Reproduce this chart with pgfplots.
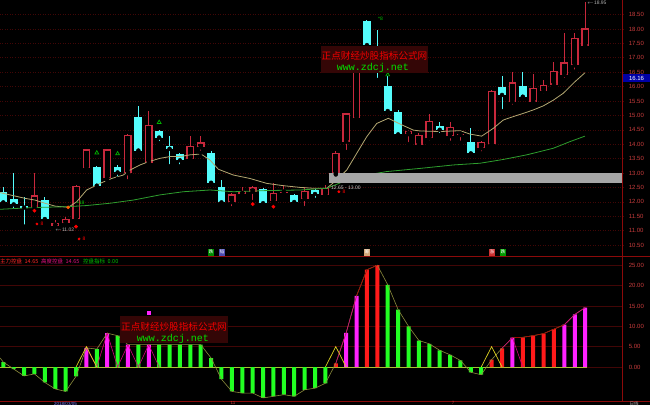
\documentclass[border=0pt]{standalone}
\usepackage{pgfplots}
\usepackage{pgfplotstable}
\pgfplotsset{compat=1.18}
\usepackage{fontspec}
\setmainfont{Liberation Sans}
\newfontfamily\cjk{Noto Sans CJK SC}
\newfontfamily\monof{Liberation Mono}
\definecolor{cyanc}{HTML}{54FCFC}
\definecolor{redc}{HTML}{C8283C}
\definecolor{ma1}{HTML}{B4A872}
\definecolor{ma2}{HTML}{2E9E2E}
\definecolor{gridc}{HTML}{420606}
\definecolor{framec}{HTML}{8C0A0A}
\definecolor{lblc}{HTML}{C83C3C}
\definecolor{barg}{HTML}{22FF22}
\definecolor{barr}{HTML}{FF1A1A}
\definecolor{barm}{HTML}{FF22FF}
\definecolor{olive2}{HTML}{8C8C3C}
\definecolor{zeroc}{HTML}{A8C030}
\definecolor{wmbg}{HTML}{340606}

\pgfplotstableread{
i o h l c
3 11.83 12.99 11.78 12.22
5 11.16 11.36 11.02 11.28
6 11.25 11.47 11.18 11.41
7 11.39 12.58 11.30 12.55
8 13.16 13.85 13.10 13.82
10 12.81 13.85 12.75 13.82
12 12.99 14.35 12.71 14.32
14 13.36 15.15 13.30 14.67
18 13.47 14.28 13.44 13.94
19 13.89 14.28 13.70 14.06
22 11.99 12.30 11.78 12.26
23 12.26 12.53 12.22 12.39
24 12.35 12.55 11.99 12.50
26 12.03 12.64 11.98 12.32
27 12.31 12.59 12.20 12.34
29 12.10 12.53 11.78 12.39
31 12.24 12.59 12.20 12.49
32 12.99 13.75 12.95 13.71
33 14.09 15.10 13.73 15.07
34 14.90 17.15 14.85 17.10
39 14.35 14.50 14.00 14.46
40 13.98 14.40 13.93 14.32
41 14.20 15.04 14.05 14.82
43 14.28 14.78 14.05 14.61
44 14.32 14.40 14.05 14.36
46 13.86 14.12 13.68 14.09
47 14.01 15.88 13.95 15.86
49 15.48 16.50 15.30 16.15
51 15.48 16.44 15.40 15.96
52 15.85 16.22 15.70 16.06
53 16.06 16.86 15.97 16.55
54 16.40 17.85 16.23 16.85
55 16.74 17.85 16.52 17.70
56 17.42 18.95 17.29 18.02
}\upT

\pgfplotstableread{
i o h l c
0 12.33 12.50 11.95 11.98
1 12.10 13.00 11.68 11.91
2 11.84 12.18 11.14 11.80
4 12.06 12.18 11.31 11.40
9 13.20 13.25 12.47 12.56
11 13.22 13.28 12.80 13.02
13 14.96 15.33 13.69 13.78
15 14.46 14.50 14.04 14.23
16 13.94 14.27 13.23 13.84
17 13.65 13.70 13.23 13.44
20 13.71 13.75 12.62 12.66
21 12.50 12.76 11.90 11.98
25 12.44 12.48 11.90 11.95
28 12.24 12.26 11.90 11.99
30 12.41 12.44 12.07 12.27
35 18.28 18.30 17.40 17.44
36 17.30 17.97 16.23 17.10
37 16.02 16.37 15.10 15.15
38 15.11 15.19 14.30 14.34
42 14.64 14.78 14.32 14.50
45 14.09 14.55 13.66 13.68
48 16.00 16.37 15.15 15.71
50 16.02 16.50 15.62 15.65
}\downT

\pgfplotsset{
  panel/.style={anchor=south west, scale only axis, width=622.7pt,
    xmin=-0.318, xmax=59.615, axis line style={draw=none}, xtick=\empty,
    yticklabel pos=right, major tick length=0pt, ymajorgrids,
    /pgf/number format/assume math mode=true,
    /pgf/number format/fixed, /pgf/number format/fixed zerofill,
    /pgf/number format/precision=2,
    yticklabel style={font=\fontsize{6}{7}\selectfont, text=lblc, anchor=west, inner sep=0pt, xshift=6pt}},
  seg/.style 2 args={only marks, no markers, mark=none, error bars/.cd, y dir=plus, y explicit,
    error mark options={draw=none, fill=none, mark size=0pt}, error bar style={draw=#1, line width=#2, line cap=butt}},
}

\begin{document}
\begin{tikzpicture}[x=1pt,y=1pt]
\fill[black] (0,0) rectangle (650,405);
\useasboundingbox (0,0) rectangle (650,405);

% ---------------- upper panel ----------------
\begin{axis}[panel, at={(0pt,148.3pt)}, height=256.7pt, ymin=10.094, ymax=19.007,
  ytick={10.5,11,11.5,12,12.5,13,13.5,14,14.5,15,15.5,16,16.5,17,17.5,18,18.5},
  grid style={color=gridc, dash pattern=on 1pt off 1.5pt, line width=0.6pt}]
% red (rising) candles: wick, outline, hollow inside
\addplot[seg={redc}{1pt}] table[x=i, y=l, y error expr={\thisrow{h}-\thisrow{l}}] {\upT};
\addplot[seg={redc}{7.8pt}] table[x=i, y expr={min(\thisrow{o},\thisrow{c})}, y error expr={max(abs(\thisrow{c}-\thisrow{o}),0.04)}] {\upT};
\addplot[seg={black}{5.0pt}] table[x=i, y expr={min(\thisrow{o},\thisrow{c})+0.048}, y error expr={max(abs(\thisrow{c}-\thisrow{o})-0.096,0)}] {\upT};
% cyan (falling) candles
\addplot[seg={cyanc}{1pt}] table[x=i, y=l, y error expr={\thisrow{h}-\thisrow{l}}] {\downT};
\addplot[seg={cyanc}{7.8pt}] table[x=i, y expr={min(\thisrow{o},\thisrow{c})}, y error expr={max(abs(\thisrow{c}-\thisrow{o}),0.04)}] {\downT};
% moving averages
\addplot[ma1, line width=0.8pt] coordinates {(-0.32,12.32) (2.09,12.12) (3.05,12.06) (4.01,11.95) (4.98,11.85) (6.26,11.81) (7.06,12.00) (8.02,12.41) (9.31,12.64) (10.43,12.81) (11.55,12.93) (12.19,13.10) (13.16,13.28) (13.96,13.39) (15.08,13.51) (16.04,13.57) (17.01,13.57) (17.97,13.63) (19.03,13.66) (19.89,13.45) (20.7,13.13) (22.14,12.93) (23.74,12.81) (25.35,12.64) (26.95,12.56) (28.56,12.50) (29.84,12.47) (31.13,12.47) (32.09,12.76) (33.05,13.10) (34.01,13.68) (34.98,14.26) (35.94,14.72) (37.06,14.90) (38.18,14.70) (39.46,14.49) (40.11,14.46) (42.04,14.44) (43.97,14.47) (44.93,14.35) (46.04,14.28) (47.16,14.55) (48.12,14.84) (49.09,14.96) (50.05,15.07) (51.01,15.19) (51.97,15.33) (52.94,15.53) (53.90,15.77) (55.02,16.17) (55.98,16.48)};
\addplot[ma2, line width=0.8pt] coordinates {(-0.32,11.74) (2.89,11.80) (6.1,11.83) (8.02,11.87) (10.27,11.95) (12.51,12.06) (15.08,12.24) (17.33,12.35) (19.89,12.41) (22.14,12.35) (25.35,12.39) (28.56,12.41) (31.13,12.47) (32.73,12.70) (34.98,12.93) (36.9,13.05) (40.11,13.16) (43.33,13.28) (45.9,13.34) (48.12,13.47) (50.37,13.63) (52.94,13.86) (54.54,14.09) (55.98,14.28)};
% grey band
\addplot[fill=gray!70, draw=none] coordinates {(31.35,12.653) (59.7,12.653) (59.7,13.0) (31.35,13.0)} --cycle;
% signal marks
\addplot[only marks, mark=*, mark size=1.7pt, color=red] coordinates {(3,11.69) (7,11.14) (24,11.92) (26,11.83)};
\addplot[only marks, mark=triangle, mark size=2.2pt, color=green!70!black, mark options={line width=0.7pt}] coordinates {(9,13.70) (11,13.67) (15,14.76) (37,16.41)};
\addplot[only marks, mark=*, mark size=1.2pt, color=red] coordinates {(3.24,11.23) (7.29,10.71) (32.3,12.35)};
\addplot[only marks, mark=*, mark size=1.6pt, color=orange!70!red] coordinates {(6.24,11.81)};
\end{axis}

% ---------------- lower panel ----------------
\begin{axis}[panel, at={(0pt,4pt)}, height=144.3pt, ymin=-8.354, ymax=27.10,
  ytick={0,5,10,15,20,25},
  grid style={color=gridc, line width=0.6pt}]
\addplot[zeroc, line width=0.9pt] coordinates {(-0.32,0) (56.2,0)};
\addplot[ybar, bar width=4pt, bar shift=0pt, fill=barg, draw=none] coordinates {(0,1.2) (1,-0.5) (2,-2.2) (3,-1.7) (4,-3.8) (5,-5.4) (6,-6.0) (7,-2.3) (9,4.4) (11,7.7) (13,5.5) (15,5.5) (16,5.5) (17,5.5) (18,5.5) (19,5.5) (20,2.2) (21,-3.0) (22,-6.0) (23,-6.4) (24,-6.4) (25,-7.6) (26,-7.2) (27,-6.8) (28,-7.2) (29,-5.6) (30,-5.2) (31,-4.0) (37,20.2) (38,14.1) (39,10.0) (40,6.5) (41,5.7) (42,4.1) (43,3.0) (44,1.6) (45,-1.3) (46,-1.9)};
\addplot[ybar, bar width=4pt, bar shift=0pt, fill=barm, draw=none] coordinates {(8,4.7) (10,8.3) (12,5.5) (14,5.5) (33,8.4) (34,17.5) (49,7.2) (54,10.4) (55,12.9) (56,14.6)};
\addplot[ybar, bar width=4pt, bar shift=0pt, fill=barr, draw=none] coordinates {(32,0.9) (35,23.9) (36,25.0) (47,1.8) (48,4.6) (50,7.3) (51,7.7) (52,8.2) (53,9.3)};
% value line
\addplot[olive2, line width=0.6pt] coordinates {(-0.3,2.2) (0,1.2) (1,-0.5) (2,-2.2) (3,-1.7) (4,-3.8) (5,-5.4) (6,-6.0) (7,-2.3) (8,4.7) (9,4.4) (10,8.3) (11,7.7) (12,5.5) (13,5.5) (14,5.5) (15,5.5) (16,5.5) (17,5.5) (18,5.5) (19,5.5) (20,2.2) (21,-3.0) (22,-6.0) (23,-6.4) (24,-6.4) (25,-7.6) (26,-7.2) (27,-6.8) (28,-7.2) (29,-5.6) (30,-5.2) (31,-4.0) (32,0.9) (33,8.4) (34,17.5) (35,23.9) (36,25.0) (37,20.2) (38,14.1) (39,10.0) (40,6.5) (41,5.7) (42,4.1) (43,3.0) (44,1.6) (45,-1.3) (46,-1.9) (47,1.8) (48,4.6) (49,7.2) (50,7.3) (51,7.7) (52,8.2) (53,9.3) (54,10.4) (55,12.9) (56,14.6)};
% overlays
\addplot[color=purple!70!magenta, line width=0.6pt] coordinates {(8,4.7) (9,0) (10,8.3) (11,0) (12,5.5) (13,0) (14,5.5) (15,0)};
\addplot[color=purple!70!magenta, line width=0.6pt] coordinates {(32,0.9) (33,8.4) (34,17.5)};
\addplot[color=purple!70!magenta, line width=0.6pt] coordinates {(48,4.6) (49,7.2) (50,0)};
\addplot[color=purple!70!magenta, line width=0.6pt] coordinates {(54,10.4) (55,12.9) (56,14.6)};
\addplot[color=red!65!black, line width=0.6pt] coordinates {(34,17.5) (35,23.9) (36,25.0)};
\addplot[color=red!65!black, line width=0.6pt] coordinates {(49,7.2) (50,7.3) (51,7.7) (52,8.2) (53,9.3) (54,10.4)};
\addplot[color=yellow!85!black, line width=0.7pt] coordinates {(7,0) (8,5) (9,0)};
\addplot[color=yellow!85!black, line width=0.7pt] coordinates {(31,0) (32,5) (33,0)};
\addplot[color=yellow!85!black, line width=0.7pt] coordinates {(46,0) (47,5) (48,0)};
\addplot[only marks, mark=square*, mark size=1.5pt, color=barm] coordinates {(14.02,13.3)};
\addplot[only marks, mark=-, mark size=1.5pt, color=barg, mark options={line width=0.8pt}] coordinates {(15.08,12.5)};
\end{axis}

% ---------------- frames ----------------
\draw[framec, line width=0.8pt] (0,148.3) -- (650,148.3);
\draw[framec, line width=0.8pt] (0,4) -- (650,4);
\draw[framec, line width=0.8pt] (622.7,4) -- (622.7,405);

% ---------------- texts ----------------
\begin{scope}[every node/.style={inner sep=0pt, font=\fontsize{5}{6}\selectfont}]
\node[anchor=west, text=gray!60] at (55,175) {$\leftarrow$11.02};
\node[anchor=west, text=green!80!black] at (77,202) {\textbullet18};
\node[anchor=west, text=red] at (40.5,181) {8};
\node[anchor=west, text=red] at (82.5,166) {8};
\node[anchor=west, text=red] at (342.5,213) {8};
\node[anchor=west, text=green!75!black] at (378,386) {*8};
\node[anchor=west, text=gray!40] at (331,217) {12.65 - 13.00};
\node[anchor=west, text=gray!60] at (587,402) {$\leftarrow$18.95};
\node[fill=blue!65!black, text=white, minimum width=27pt, minimum height=8pt, font=\fontsize{6}{7}\selectfont] at (636.5,327) {16.16};
% lower panel legend
\node[anchor=west, text=red!85!white, font=\cjk\fontsize{5.5}{6}\selectfont] at (0,144) {主力控盘\ \ 14.65};
\node[anchor=west, text=magenta!80!purple, font=\cjk\fontsize{5.5}{6}\selectfont] at (41,144) {高度控盘\ \ 14.65};
\node[anchor=west, text=green!75!black, font=\cjk\fontsize{5.5}{6}\selectfont] at (83,144) {控盘指标\ \ 0.00};
% small icons
\node[fill=green!55!black, text=white, minimum width=6pt, minimum height=7pt, font=\cjk\fontsize{4.5}{5}\selectfont] at (211,153) {跌};
\node[fill=blue!40!gray, text=white, minimum width=6pt, minimum height=7pt, font=\cjk\fontsize{4.5}{5}\selectfont] at (222,153) {韬};
\node[fill=brown!70!white, text=white, minimum width=6pt, minimum height=7pt, font=\cjk\fontsize{4.5}{5}\selectfont] at (367,153) {筹};
\node[fill=red!60!gray, text=white, minimum width=6pt, minimum height=7pt, font=\cjk\fontsize{4.5}{5}\selectfont] at (492,153) {涨};
\node[fill=green!60!black, text=white, minimum width=6pt, minimum height=7pt, font=\cjk\fontsize{4.5}{5}\selectfont] at (503,153) {跌};
% bottom axis
\node[text=blue!50!white, font=\fontsize{4.5}{5}\selectfont] at (65.5,1.6) {2018/03/05};
\node[text=lblc, font=\fontsize{4.5}{5}\selectfont] at (233,1.6) {11};
\node[text=lblc, font=\fontsize{4.5}{5}\selectfont] at (453,1.6) {7};
\node[text=gray!60, font=\cjk\fontsize{4.5}{5}\selectfont] at (634,1.6) {日线};
\end{scope}

% ---------------- watermarks ----------------
\fill[wmbg] (321,332) rectangle (428,359);
\node[text=red!95!black, font=\cjk\fontsize{9.6}{10}\selectfont, inner sep=0pt] at (374.5,349) {正点财经炒股指标公式网};
\node[text=green!90!black, font=\monof\fontsize{10}{10}\selectfont, inner sep=0pt] at (373,337.5) {www.zdcj.net};
\fill[wmbg] (120,62) rectangle (228,89);
\node[text=red!95!black, font=\cjk\fontsize{9.6}{10}\selectfont, inner sep=0pt] at (174,78.5) {正点财经炒股指标公式网};
\node[text=green!90!black, font=\monof\fontsize{10}{10}\selectfont, inner sep=0pt] at (173,66.5) {www.zdcj.net};
\end{tikzpicture}
\end{document}
